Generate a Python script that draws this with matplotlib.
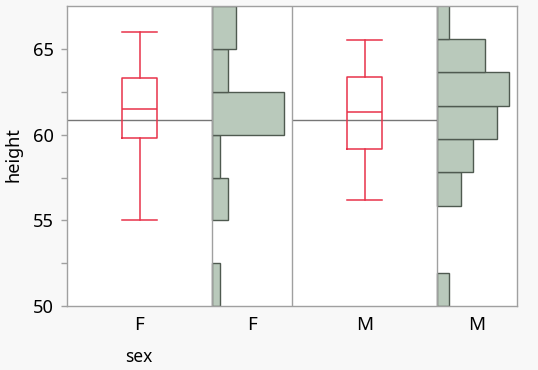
import matplotlib
matplotlib.use("Agg")
import matplotlib.pyplot as plt
import numpy as np

plt.rcParams['font.family'] = ['Noto Sans', 'DejaVu Sans']

# ---- data ----
groups = ["F", "M"]
# box plot summary (height)
whis_lo = [55.0, 56.2]
q1 = [59.8, 59.15]
median = [61.5, 61.3]
q3 = [63.3, 63.4]
whis_hi = [66.0, 65.55]
group_mean = [60.89, 60.85]

# histograms
f_edges = [50, 52.5, 55, 57.5, 60, 62.5, 65, 67.5]
f_counts = [1, 0, 2, 1, 9, 2, 3]
m_edges = [50, 51.95, 53.9, 55.85, 57.8, 59.75, 61.7, 63.65, 65.6, 67.55]
m_counts = [1, 0, 0, 2, 3, 5, 6, 4, 1]

x_labels = ["F", "F", "M", "M"]

# ---- layout (panel widths in px-like units) ----
BOXW, HISTW = 145.0, 80.0
starts = [0, BOXW, BOXW + HISTW, 2 * BOXW + HISTW]
widths = [BOXW, HISTW, BOXW, HISTW]
total = 2 * (BOXW + HISTW)

W, H = 538, 370
fig = plt.figure(figsize=(W / 100, H / 100), dpi=100)
fig.patch.set_facecolor('#f8f8f8')
ax = fig.add_axes([67 / W, 1 - 306 / H, 450 / W, (306 - 6.3) / H])
ax.set_facecolor('white')

ax.set_xlim(0, total)
ax.set_ylim(50, 67.5)

red = '#e8334a'
gray_line = '#767676'
hist_fill = '#b9c9bb'
hist_edge = '#4f5a50'

# box plots
stats = []
for i in range(2):
    stats.append(dict(med=median[i], q1=q1[i], q3=q3[i], whislo=whis_lo[i],
                      whishi=whis_hi[i], fliers=[]))
box_pos = [starts[0] + BOXW / 2, starts[2] + BOXW / 2]
# mean lines
for i, s in enumerate([starts[0], starts[2]]):
    ax.hlines(group_mean[i], s, s + BOXW, color=gray_line, lw=1.0, zorder=2)
ax.bxp(stats, positions=box_pos, widths=35, showfliers=False,
       boxprops=dict(color=red, lw=1.1), medianprops=dict(color=red, lw=1.1),
       whiskerprops=dict(color=red, lw=1.1), capprops=dict(color=red, lw=1.1),
       capwidths=35, manage_ticks=False, zorder=3)

# histograms
def draw_hist(edges, counts, x0):
    edges = np.asarray(edges, float)
    counts = np.asarray(counts, float)
    scale = 0.9 * HISTW / counts.max()
    for k, c in enumerate(counts):
        if c <= 0:
            continue
        ax.barh(edges[k], c * scale, height=edges[k + 1] - edges[k], left=x0,
                align='edge', color=hist_fill, edgecolor=hist_edge, lw=1.0,
                zorder=2)

draw_hist(f_edges, f_counts, starts[1])
draw_hist(m_edges, m_counts, starts[3])

# dividers
for s in starts[1:]:
    ax.axvline(s, color='#a0a0a0', lw=1.0, zorder=4)

for sp in ax.spines.values():
    sp.set_color('#a0a0a0')
    sp.set_linewidth(1.0)
ax.spines['left'].set_zorder(5)

ax.set_yticks([50, 55, 60, 65])
ax.set_yticks([52.5, 57.5, 62.5], minor=True)
ax.tick_params(axis='y', which='both', length=4, color='#a0a0a0', width=1,
               labelsize=13.2, pad=5.5, labelcolor='black')
ax.set_xticks([s + w / 2 for s, w in zip(starts, widths)])
ax.set_xticklabels(x_labels)
ax.tick_params(axis='x', length=0, labelsize=13.5, pad=7)

fig.text(14 / W, 1 - 154.5 / H, 'height', rotation=90, ha='center', va='center',
         fontsize=13)
fig.text(138.5 / W, 1 - 357 / H, 'sex', ha='center', va='center', fontsize=12.5)

fig.savefig('out.png', dpi=100, facecolor=fig.get_facecolor())
